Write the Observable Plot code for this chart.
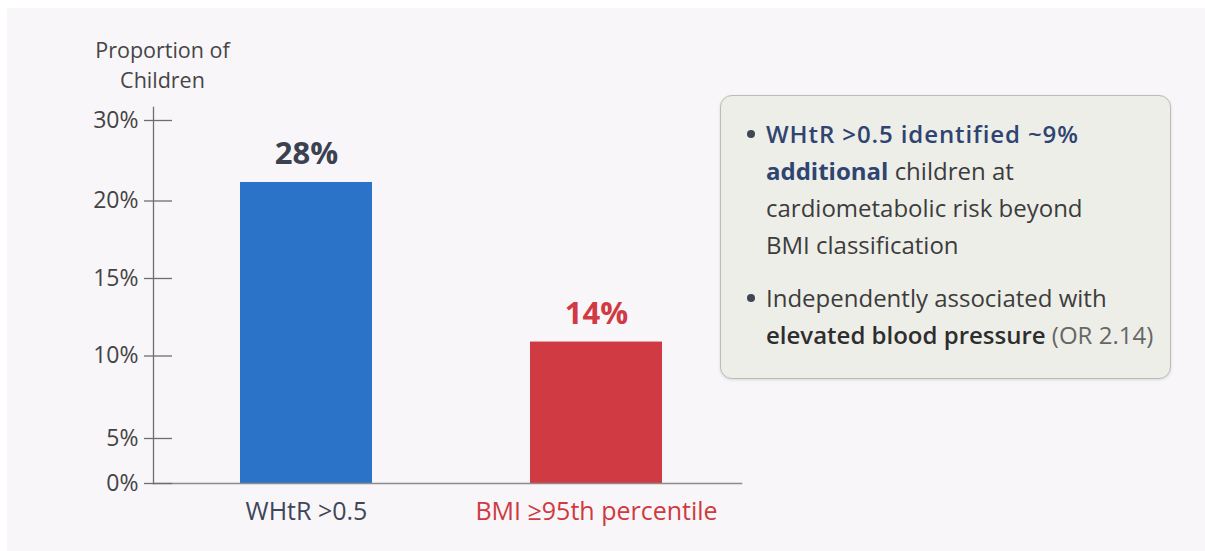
<!DOCTYPE html>
<html><head><meta charset="utf-8">
<script src="https://cdn.jsdelivr.net/npm/d3@7"></script>
<script src="https://cdn.jsdelivr.net/npm/@observablehq/plot@0.6"></script>
<style>
html,body{margin:0;padding:0;background:#ffffff;}
#wrap{position:relative;width:1205px;height:551px;background:#ffffff;font-family:"Open Sans","Noto Sans",sans-serif;overflow:hidden;}
#bg{position:absolute;left:7px;top:8px;right:0;bottom:0;background:#f9f6f9;}
#chart{position:absolute;left:0;top:0;}
#ytitle{position:absolute;left:75px;top:35px;width:175px;text-align:center;font-size:21.5px;line-height:30px;color:#454545;}
#box{position:absolute;left:720px;top:95px;width:449px;height:282px;border:1.5px solid #b9bdb5;border-radius:12px;background:#eeeee9;box-shadow:0 1px 3px rgba(0,0,0,0.12);box-sizing:content-box;}
#box ul{list-style:none;margin:0;padding:19px 10px 0 45px;}
#box li{position:relative;font-size:24px;line-height:37px;color:#3c3c3c;white-space:nowrap;}
#box li+li{margin-top:16px;}
#box li::before{content:"";position:absolute;left:-19px;top:15px;width:8px;height:8px;border-radius:50%;background:#3f4654;}
.hl{color:#2f4471;font-weight:600;letter-spacing:0.9px;}
.hb{color:#2f4471;font-weight:700;}
.db{color:#2e2e2e;font-weight:600;}
.lt{color:#666;}
</style></head><body>
<div id="wrap">
  <div id="bg"></div>
  <div id="ytitle">Proportion of<br>Children</div>
  <div id="chart"></div>
  <div id="box"><ul>
    <li><span class="hl">WHtR &gt;0.5 identified ~9%</span><br><span class="hb">additional</span> children at<br>cardiometabolic risk beyond<br>BMI classification</li>
    <li>Independently associated with<br><span class="db">elevated blood pressure</span> <span class="lt">(OR 2.14)</span></li>
  </ul></div>
</div>
<script>
const categories = ["WHtR >0.5", "BMI ≥95th percentile"];
const barValues = [22.3, 10.9];
const barLabels = ["28%", "14%"];
const barColors = ["#2a73c8", "#d03a42"];
const labelColors = ["#3a4252", "#d03a42"];
const categoryColors = ["#3e4658", "#cf3a40"];
const tickValues = [0, 5, 10, 15, 20, 30];
const tickLabels = ["0%", "5%", "10%", "15%", "20%", "30%"];
// uneven spacing of the reference's axis (height above baseline of each tick)
const tickSpacing = [0, 45, 127.5, 205, 282.5, 363];

const data = categories.map((c, i) => ({
  cat: c, value: barValues[i], label: barLabels[i],
  barColor: barColors[i], labelColor: labelColors[i], catColor: categoryColors[i]
}));

const warp = d3.scaleLinear().domain(tickValues).range(tickSpacing);

const chart = Plot.plot({
  width: 1205, height: 551,
  marginLeft: 153, marginRight: 464, marginTop: 107, marginBottom: 68,
  style: {background: "transparent", fontFamily: "'Open Sans','Noto Sans',sans-serif", overflow: "visible"},
  x: {domain: categories, range: [161, 741], paddingInner: 0.545, paddingOuter: 0.2725, axis: null},
  y: {transform: warp, domain: [0, 363], range: [483, 120], axis: null, label: null},
  color: {type: "identity"},
  marks: [
    Plot.barY(data, {x: "cat", y: "value", fill: d => d.barColor}),
    Plot.frame({anchor: "left", stroke: "#6e6e6e", strokeWidth: 1.3}),
    Plot.frame({anchor: "bottom", stroke: "#8c8c8c", strokeWidth: 1.5}),
    Plot.axisY(tickValues, {
      anchor: "left", tickSize: 28, tickPadding: 6, dx: 19, label: null,
      tickFormat: d => tickLabels[tickValues.indexOf(d)],
      stroke: "#6e6e6e", fill: "#444", fontSize: 23, strokeWidth: 1.3
    }),
    Plot.text(data, {x: "cat", y: "value", text: "label", lineAnchor: "bottom", dy: -18,
      fontSize: 31, fontWeight: 700, fill: d => d.labelColor}),
    Plot.text(data, {x: "cat", y: () => 0, text: "cat", lineAnchor: "top", dy: 19,
      fontSize: 25, fill: d => d.catColor})
  ]
});
document.getElementById("chart").appendChild(chart);
</script>
</body></html>
